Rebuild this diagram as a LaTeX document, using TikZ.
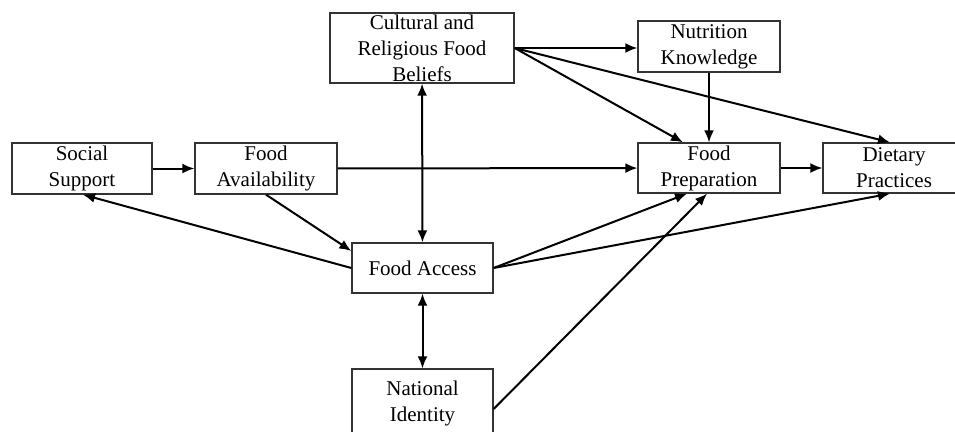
\documentclass[tikz,border=0pt]{standalone}
\usepackage{fontspec}
\setmainfont{Liberation Serif}
\usetikzlibrary{arrows.meta,calc}
\begin{document}
\begin{tikzpicture}[x=1pt,y=-1pt,
  box/.style={draw=black!80,line width=1.3pt,fill=white,align=center,inner sep=0pt,
    font=\fontsize{21}{26}\selectfont},
  arr/.style={line width=2pt,-{Latex[length=12pt,width=10pt]}},
  darr/.style={line width=2pt,{Latex[length=12pt,width=10pt]}-{Latex[length=12pt,width=10pt]}}]
\useasboundingbox (0,0) rectangle (955,431);
\node[box,minimum width=140pt,minimum height=51pt] (ss) at (82,168.5) {Social\\Support};
\node[box,minimum width=142pt,minimum height=51pt] (fa) at (266,168.5) {Food\\Availability};
\node[box,minimum width=184pt,minimum height=70pt] (cr) at (422,48) {Cultural and\\Religious Food\\Beliefs};
\node[box,minimum width=142pt,minimum height=51pt] (nk) at (709,46.5) {Nutrition\\Knowledge};
\node[box,minimum width=142pt,minimum height=50pt] (fp) at (709,168) {Food\\Preparation};
\node[box,minimum width=142pt,minimum height=50pt] (dp) at (894,168) {Dietary\\Practices};
\node[box,minimum width=141pt,minimum height=50pt] (fac) at (422.5,268) {Food Access};
\node[box,minimum width=141pt,minimum height=68pt] (ni) at (422.5,403) {National\\Identity};
% arrows
\draw[arr] (ss) -- (fa);
\draw[arr] (fa) -- (fp);
\draw[arr] (fp) -- (dp);
\draw[arr] (cr.east) -- (nk.west |- cr.east);
\draw[arr] (cr.east) -- ([xshift=-26pt]fp.north);
\draw[arr] (cr.east) -- ([xshift=-4pt]dp.north);
\draw[arr] (nk) -- (fp);
\draw[darr] (cr) -- (fac);
\draw[darr] (fac) -- (ni);
\draw[arr] (fa.south) -- ([yshift=17pt]fac.west);
\draw[arr] (fac.west) -- ([xshift=1pt]ss.south);
\draw[arr] (fac.east) -- ([xshift=-22pt]fp.south);
\draw[arr] (fac.east) -- ([xshift=-4pt]dp.south);
\draw[arr] ([yshift=-6pt]ni.east) -- ([xshift=-2pt]fp.south);
\end{tikzpicture}
\end{document}
